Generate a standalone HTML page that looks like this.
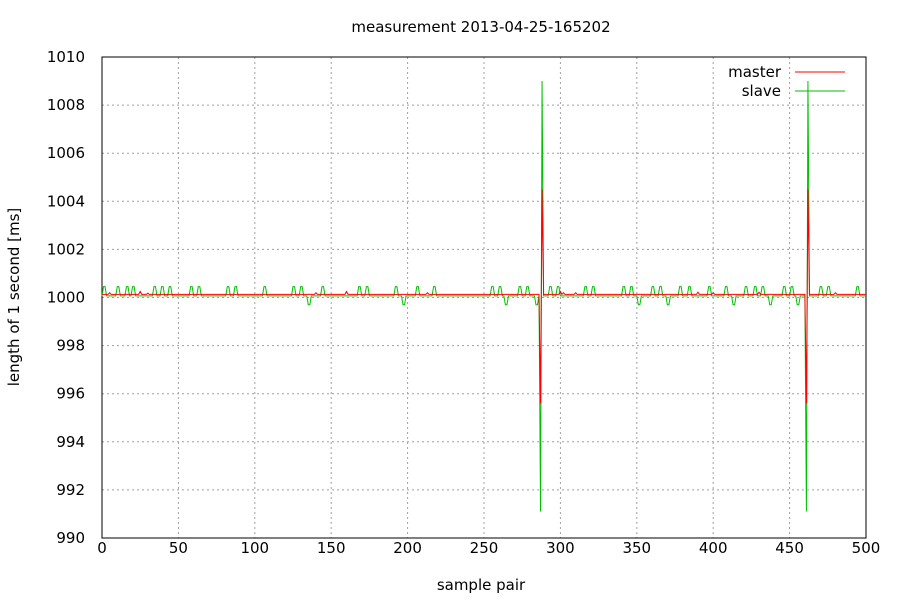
<!DOCTYPE html>
<html><head><meta charset="utf-8"><style>
body{margin:0;background:#fff}
svg text{font-family:"DejaVu Sans","Liberation Sans",sans-serif;font-size:15px;fill:#000}
</style></head><body>
<svg id="c" width="900" height="600"></svg>
<script>
const xTicks=[0,50,100,150,200,250,300,350,400,450,500];
const yTicks=[990,992,994,996,998,1000,1002,1004,1006,1008,1010];
const slaveBase=1000.07;
const masterBase=1000.13;
const slavePeaks=[1,10,16,20,34,39,44,58,63,82,87,106,125,130,144,168,173,192,206,217,255,260,273,278,293,298,316,321,341,346,360,365,378,384,397,408,421,427,432,446,451,470,475,494];
const slavePeakValue=1000.45;
const slaveDips=[135,197,264,284,351,370,413,437,455];
const slaveDipValue=999.7;
const slaveSpikes=[[287,991.1],[288,1009.0],[461,991.1],[462,1009.0]];
const masterSpikes=[[287,995.6],[288,1004.5],[461,995.6],[462,1004.5]];
const masterBumps=[[5,1000.2],[25,1000.25],[30,1000.18],[140,1000.2],[160,1000.25],[213,1000.2],[300,1000.25],[302,1000.2],[310,1000.2],[390,1000.22],[400,1000.2],[430,1000.22],[480,1000.2]];
const N=501;

const L=102,R=866,T=57,B=538;
const sx=v=>L+(v-0)/(500-0)*(R-L);
const sy=v=>B-(v-990)/(1010-990)*(B-T);
const svg=document.getElementById('c');
const NS='http://www.w3.org/2000/svg';
function mk(t,a,p){const e=document.createElementNS(NS,t);for(const k in a)e.setAttribute(k,a[k]);(p||svg).appendChild(e);return e;}

let t=mk('text',{x:481,y:32,'text-anchor':'middle'});t.textContent='measurement 2013-04-25-165202';



xTicks.forEach(v=>{
  const g=mk('line',{x1:sx(v),x2:sx(v),y1:T,y2:B,stroke:'#a0a0a0','stroke-dasharray':'2,3'});
  
  
  const l=mk('text',{x:sx(v),y:B+15,'text-anchor':'middle'});l.textContent=v;
  
  
});
yTicks.forEach(v=>{
  const g=mk('line',{x1:L,x2:R,y1:sy(v),y2:sy(v),stroke:'#a0a0a0','stroke-dasharray':'2,3'});
  
  
  const l=mk('text',{x:L-17,y:sy(v)+5,'text-anchor':'end'});l.textContent=v;
  
  
});
let fr=mk('rect',{x:L,y:T,width:R-L,height:B-T,fill:'none',stroke:'#000'});



let xl=mk('text',{x:481,y:590,'text-anchor':'middle'});xl.textContent='sample pair';


let yl=mk('text',{x:19,y:297,'text-anchor':'middle',transform:'rotate(-90 19 297)'});yl.textContent='length of 1 second [ms]';



const master=new Array(N).fill(masterBase);
masterBumps.forEach(([i,v])=>master[i]=v);
masterSpikes.forEach(([i,v])=>master[i]=v);
const slave=new Array(N).fill(slaveBase);
slavePeaks.forEach(i=>{slave[i]=slavePeakValue;if(i+1<N)slave[i+1]=slavePeakValue;});
slaveDips.forEach(i=>{slave[i]=slaveDipValue;if(i+1<N)slave[i+1]=slaveDipValue;});
slaveSpikes.forEach(([i,v])=>slave[i]=v);

function pts(a){return a.map((v,i)=>sx(i).toFixed(2)+','+sy(v).toFixed(2)).join(' ');}
let ps=mk('polyline',{points:pts(slave),fill:'none',stroke:'#00c000','stroke-width':1});


let pm=mk('polyline',{points:pts(master),fill:'none',stroke:'#ff0000','stroke-width':1});



[['master','#ff0000',72,'legend-master'],['slave','#00c000',91,'legend-slave']].forEach(([n,c,y,dn])=>{
  const tx=mk('text',{x:781,y:y+5,'text-anchor':'end'});tx.textContent=n;
  
  
  const ln=mk('line',{x1:795,x2:845,y1:y,y2:y,stroke:c});
  
  
});
</script>
</body></html>
